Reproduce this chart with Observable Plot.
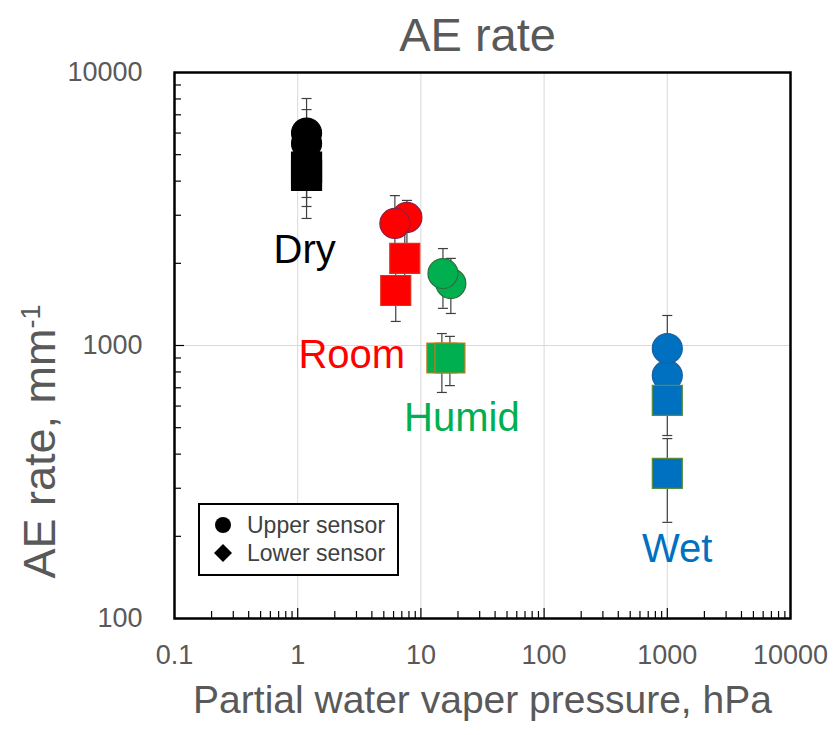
<!DOCTYPE html>
<html><head><meta charset="utf-8">
<script src="https://cdn.jsdelivr.net/npm/d3@7"></script>
<script src="https://cdn.jsdelivr.net/npm/@observablehq/plot@0.6"></script>
<style>
body{margin:0;background:#fff;font-family:"Liberation Sans",Arial,sans-serif}
#wrap{position:relative;width:833px;height:735px}
#legend{position:absolute;left:198px;top:503px;width:201px;height:73px;box-sizing:border-box;border:2px solid #000;background:#fff;padding-top:6px}
.row{display:flex;align-items:center;height:28px;font-size:23px;color:#404040;white-space:nowrap}
.row svg{margin-left:13px;margin-right:14px;flex:none}
</style></head><body><div id="wrap"></div>
<script>
// ---- data ----
const conditions = ["Dry", "Room", "Humid", "Wet"];
const condColors = ["#000000", "#ff0000", "#00b050", "#0070c0"];
const circleStroke = ["#000000", "#8a2045", "#2e6e3e", "#1a5f9e"];
const squareStroke = ["#000000", "#e0301a", "#c47a1a", "#5b8c3a"];

// Upper sensor (circles)
const upperCond = ["Dry", "Dry", "Room", "Room", "Humid", "Humid", "Wet", "Wet"];
const upperX    = [1.18, 1.18, 7.7, 6.15, 17.5, 15.1, 1000, 1000];
const upperY    = [5500, 6000, 2945, 2800, 1686, 1835, 776, 975];
const upperLo   = [3230, 4000, 2300, 2100, 1310, 1368, 600, 750];
const upperHi   = [7315, 8030, 3400, 3540, 2085, 2265, 950, 1288];

// Lower sensor (squares)
const lowerCond = ["Dry", "Dry", "Room", "Room", "Humid", "Humid", "Wet", "Wet"];
const lowerX    = [1.18, 1.18, 7.4, 6.25, 14.8, 17.2, 1000, 1000];
const lowerY    = [4500, 4200, 2085, 1590, 900, 900, 630, 340];
const lowerLo   = [2920, 3485, 1600, 1225, 673, 713, 468, 225];
const lowerHi   = [5800, 5200, 2600, 2000, 1106, 1080, 800, 456];

// condition labels (data coordinates)
const labelText = ["Dry", "Room", "Humid", "Wet"];
const labelX = [1.14, 2.75, 21.5, 1205];
const labelY = [2230, 918, 540, 180];

// ticks
const xTicks = [0.1, 1, 10, 100, 1000, 10000];
const yTicks = [100, 1000, 10000];
const xGrid = [1, 10, 100, 1000];
const yGrid = [1000];

// ---- build ----
const W = 833, H = 735, mL = 174, mR = 43, mT = 72, mB = 117;
const plotW = W - mL - mR, plotH = H - mT - mB;

const upper = upperCond.map((c, i) => ({cond: c, x: upperX[i], y: upperY[i], lo: upperLo[i], hi: upperHi[i]}));
const lower = lowerCond.map((c, i) => ({cond: c, x: lowerX[i], y: lowerY[i], lo: lowerLo[i], hi: lowerHi[i]}));
const all = upper.concat(lower);
const ci = d => conditions.indexOf(d.cond);

const decadesX = xTicks.slice(0, -1);
const xMinor = decadesX.flatMap(d => d3.range(2, 10).map(k => k * d));
const decadesY = yTicks.slice(0, -1);
const yMinor = decadesY.flatMap(d => d3.range(2, 10).map(k => k * d));
const xMajorInner = xTicks.slice(1, -1);
const yMajorInner = yTicks.slice(1, -1);

const capSymbol = {draw(ctx) { ctx.moveTo(-5, 0); ctx.lineTo(5, 0); }};
const squareSymbol = {draw(ctx) { ctx.rect(-15, -15, 30, 30); }};

const fmt = d => String(d);

const chart = Plot.plot({
  width: W, height: H,
  marginLeft: mL, marginRight: mR, marginTop: mT, marginBottom: mB,
  style: {fontFamily: "'Liberation Sans', Arial, sans-serif", background: "#fff"},
  x: {type: "log", domain: [0.1, 10000]},
  y: {type: "log", domain: [100, 10000]},
  marks: [
    Plot.ruleX(xGrid, {x: d => d, stroke: "#d9d9d9", strokeWidth: 1}),
    Plot.ruleY(yGrid, {y: d => d, stroke: "#d9d9d9", strokeWidth: 1}),
    Plot.ruleX(xMinor, {x: d => d, insetTop: plotH - 7, stroke: "#000", strokeWidth: 1.2}),
    Plot.ruleX(xMajorInner, {x: d => d, insetTop: plotH - 10, stroke: "#000", strokeWidth: 1.2}),
    Plot.ruleY(yMinor, {y: d => d, insetRight: plotW - 7, stroke: "#000", strokeWidth: 1.2}),
    Plot.ruleY(yMajorInner, {y: d => d, insetRight: plotW - 10, stroke: "#000", strokeWidth: 1.2}),
    Plot.frame({stroke: "#000", strokeWidth: 2.5}),
    // error bars
    Plot.ruleX(all, {x: "x", y1: "lo", y2: "hi", stroke: "#404040", strokeWidth: 1.2}),
    Plot.dot(all, {x: "x", y: "lo", symbol: capSymbol, fill: "none", stroke: "#404040", strokeWidth: 1.2}),
    Plot.dot(all, {x: "x", y: "hi", symbol: capSymbol, fill: "none", stroke: "#404040", strokeWidth: 1.2}),
    // markers
    Plot.dot(upper, {x: "x", y: "y", r: 15, fill: d => condColors[ci(d)], stroke: d => circleStroke[ci(d)], strokeWidth: 1.2}),
    Plot.dot(lower, {x: "x", y: "y", symbol: squareSymbol, fill: d => condColors[ci(d)], stroke: d => squareStroke[ci(d)], strokeWidth: 1.2}),
    // condition labels
    Plot.text(labelText, {x: (d, i) => labelX[i], y: (d, i) => labelY[i], text: d => d,
      fill: (d, i) => condColors[i], fontSize: 40}),
    // axes
    Plot.axisX({ticks: xTicks, tickSize: 0, tickPadding: 26, fontSize: 27, color: "#595959", tickFormat: fmt, label: null}),
    Plot.axisY({ticks: yTicks, tickSize: 0, tickPadding: 32, fontSize: 27, color: "#595959", tickFormat: fmt, label: null}),
    // title and axis labels
    Plot.text(["AE rate"], {frameAnchor: "top", lineAnchor: "middle", dy: -37, dx: -5, fontSize: 47, fill: "#595959"}),
    Plot.text(["Partial water vaper pressure, hPa"], {frameAnchor: "bottom", lineAnchor: "middle", dy: 82, fontSize: 39, fill: "#595959"}),
    Plot.text(["AE rate, mm-1"], {frameAnchor: "left", lineAnchor: "middle", dx: -134, dy: 233, rotate: -90, textAnchor: "start", fontSize: 45, fill: "#595959"})
  ]
});

// superscript on the y label
chart.querySelectorAll("text").forEach(t => {
  if (t.textContent === "AE rate, mm-1") {
    t.textContent = "AE rate, mm";
    const sup = document.createElementNS("http://www.w3.org/2000/svg", "tspan");
    sup.setAttribute("dy", "-0.55em");
    sup.setAttribute("font-size", "0.6em");
    sup.textContent = "-1";
    t.appendChild(sup);
  }
});

const wrap = document.getElementById("wrap");
wrap.appendChild(chart);

// legend
const legend = document.createElement("div");
legend.id = "legend";
legend.innerHTML =
  '<div class="row"><svg width="20" height="20" viewBox="-10 -10 20 20"><circle r="8" fill="#000"/></svg>Upper sensor</div>' +
  '<div class="row"><svg width="20" height="20" viewBox="-10 -10 20 20"><path d="M0,-9L9,0L0,9L-9,0Z" fill="#000"/></svg>Lower sensor</div>';
wrap.appendChild(legend);
</script>
</body></html>
